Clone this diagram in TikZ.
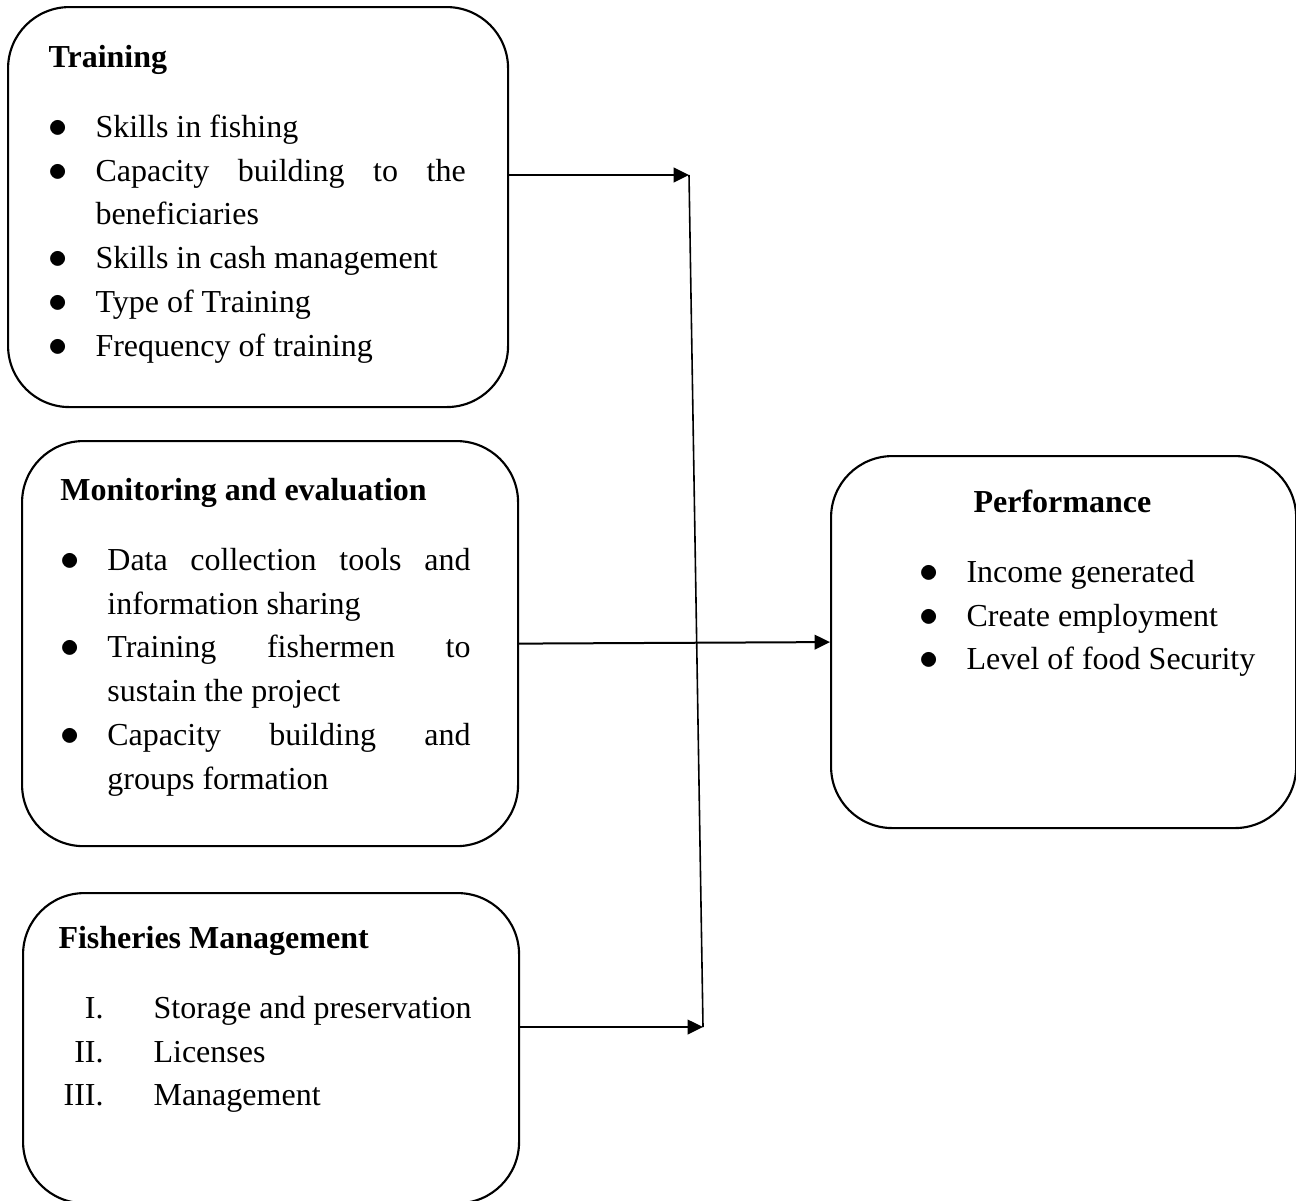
\documentclass[tikz,border=0pt]{standalone}
\usepackage{fontspec}
\setmainfont{Liberation Serif}
\usetikzlibrary{positioning}
\usetikzlibrary{arrows.meta}
\newlength{\hangw}\setlength{\hangw}{17.6pt}
\newcommand{\bitem}[1]{\par\noindent\hangindent=\hangw\hangafter=1\makebox[\hangw][l]{\fontsize{15pt}{16pt}\selectfont$\bullet$}#1\par}
\newcommand{\ritem}[2]{\par\noindent\makebox[16.9pt][r]{#1}\hspace{18.75pt}#2\par}

\begin{document}
\begin{tikzpicture}[x=0.375pt, y=0.375pt,
    box/.style = {rectangle, draw, line width=0.8pt, rounded corners=23pt, anchor=north west, inner sep=0pt},
    txt/.style = {anchor=north west, inner sep=0pt, align=justify, font=\fontsize{12pt}{16.4pt}\selectfont\sloppy\hyphenpenalty10000},
    arr/.style = {line width=0.75pt, -{Triangle[length=5.8pt, width=5.5pt]}}]
        \useasboundingbox (0,0) rectangle (1296,-1200);
        \node[box, minimum width=187.5pt, minimum height=150pt] (train) at (7,-6) {};
        \node[box, minimum width=186pt, minimum height=151.9pt] (monitor) at (21,-440) {};
        \node[box, minimum width=186pt, minimum height=116.3pt] (fish) at (22,-892) {}; % runs off the page bottom
        \node[box, minimum width=174.4pt, minimum height=139.5pt] (perf) at (830,-455) {};
        \node[txt, text width=156.4pt, below right=11.4pt and 15.4pt of train.north west] (traintxt) {%
            \textbf{Training}\strut\par\vspace{9.8pt}
            \bitem{Skills in fishing}
            \bitem{Capacity building to the\linebreak beneficiaries}
            \bitem{Skills in cash management}
            \bitem{Type of Training}
            \bitem{Frequency of training}};
        \node[txt, text width=153.75pt, below right=11pt and 14.6pt of monitor.north west] (monitortxt) {%
            \textbf{Monitoring and evaluation}\strut\par\vspace{9.8pt}
            \bitem{Data collection tools and\linebreak information sharing}
            \bitem{Training fishermen to\linebreak sustain the project}
            \bitem{Capacity building and\linebreak groups formation}};
        \node[txt, text width=165pt, below right=9.5pt and 13.5pt of fish.north west] (fishtxt) {%
            \textbf{Fisheries Management}\strut\par\vspace{9.8pt}
            \ritem{I.}{Storage and preservation}
            \ritem{II.}{Licenses}
            \ritem{III.}{Management}};
        \node[txt, text width=141pt, below right=9.9pt and 33.4pt of perf.north west] (perftxt) {%
            \hspace*{20.25pt}\textbf{Performance}\strut\par\vspace{9.8pt}
            \bitem{Income generated}
            \bitem{Create employment}
            \bitem{Level of food Security}};
        \coordinate (top) at (689,-175);
        \coordinate (bot) at (703,-1027);
        \draw[line width=0.6pt] (top) -- (bot);
        \draw[arr] (top -| train.east) -- (top);
        \draw[arr] (bot -| fish.east) -- (bot);
        \draw[arr] (monitor.east) -- (perf.west);
    \end{tikzpicture}
\end{document}
